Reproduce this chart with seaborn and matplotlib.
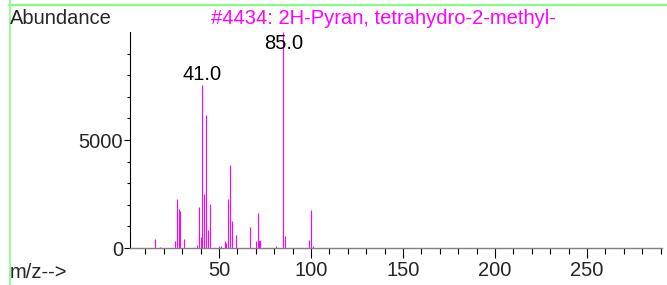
import matplotlib.pyplot as plt
import matplotlib.ticker as ticker
import seaborn as sns
import pandas as pd

# spectrum
mz = [15, 18, 26, 27, 28, 29, 31, 38, 39, 40, 41, 42, 43, 44, 45,
      50, 51, 53, 54, 55, 56, 57, 59, 67, 70, 71, 72, 81, 85, 86, 99, 100, 101]
abundance = [400, 60, 320, 2250, 1820, 1730, 400, 150, 1900, 500, 7546, 2500, 6150, 830, 2040,
             80, 110, 320, 230, 2270, 3840, 1260, 600, 970, 320, 1620, 320, 100, 9999, 560, 370, 1760, 90]
peak_labels = [41, 85]
title = "#4434: 2H-Pyran, tetrahydro-2-methyl-"

df = pd.DataFrame({"mz": mz, "abundance": abundance})

sns.set_style("white")
plt.rcParams['font.family'] = ['Liberation Sans', 'DejaVu Sans']

fig = plt.figure(figsize=(6.67, 2.85), dpi=100)
ax = fig.add_axes([130 / 667, 1 - 248 / 285, 532 / 667, 216 / 285])

sns.histplot(data=df, x="mz", weights="abundance", discrete=True, shrink=0.02,
             color="#ff00ff", edgecolor="#ff00ff", linewidth=0.8, alpha=1, ax=ax)

# peak labels, kept inside the plot area
for p in peak_labels:
    v = df.loc[df.mz == p, "abundance"].iloc[0]
    ax.annotate(f"{p:.1f}", (p, min(v, 8950)), xytext=(0, 1), textcoords="offset points",
                ha="center", va="bottom", fontsize=14.5, color="black")

ax.set_xlim(1.6, 290.8)
ax.set_ylim(0, 10000)
ax.set_xlabel("")
ax.set_ylabel("")
ax.xaxis.set_major_locator(ticker.MultipleLocator(50))
ax.xaxis.set_minor_locator(ticker.MultipleLocator(10))
ax.yaxis.set_major_locator(ticker.FixedLocator([0, 5000]))
ax.yaxis.set_minor_locator(ticker.FixedLocator(range(1000, 10000, 1000)))
ax.xaxis.set_major_formatter(ticker.FuncFormatter(lambda v, _: "" if v == 0 else f"{v:.0f}"))
ax.tick_params(axis="x", which="major", direction="out", length=7, width=0.8,
               color="black", labelsize=14.5, pad=2)
ax.tick_params(axis="y", which="major", direction="out", length=4, width=0.8,
               color="black", labelsize=14.5, pad=1)
ax.tick_params(axis="x", which="minor", direction="out", length=4, width=0.8, color="black")
ax.tick_params(axis="y", which="minor", direction="out", length=2, width=0.8, color="black")
ax.tick_params(bottom=True, left=True, which="both")

sns.despine(ax=ax)
ax.spines["left"].set_color("black")
ax.spines["left"].set_linewidth(0.8)
ax.spines["bottom"].set_color("#808080")
ax.spines["bottom"].set_linewidth(1.0)

fig.text(10 / 667, 1 - 18 / 285, "Abundance", fontsize=14.5, va="center", ha="left")
fig.text(383 / 667, 1 - 18 / 285, title, fontsize=14.5, va="center", ha="center", color="#ff00ff")
fig.text(10 / 667, 1 - 273 / 285, "m/z-->", fontsize=14.5, va="center", ha="left")

# green frame lines at top and left
fig.add_artist(plt.Line2D([9 / 667, 1], [1 - 4.5 / 285] * 2, color="#80ff80", lw=1.5,
                          transform=fig.transFigure))
fig.add_artist(plt.Line2D([9.5 / 667] * 2, [0, 1], color="#80ff80", lw=1.2,
                          transform=fig.transFigure))

fig.savefig("out.png", dpi=100)
